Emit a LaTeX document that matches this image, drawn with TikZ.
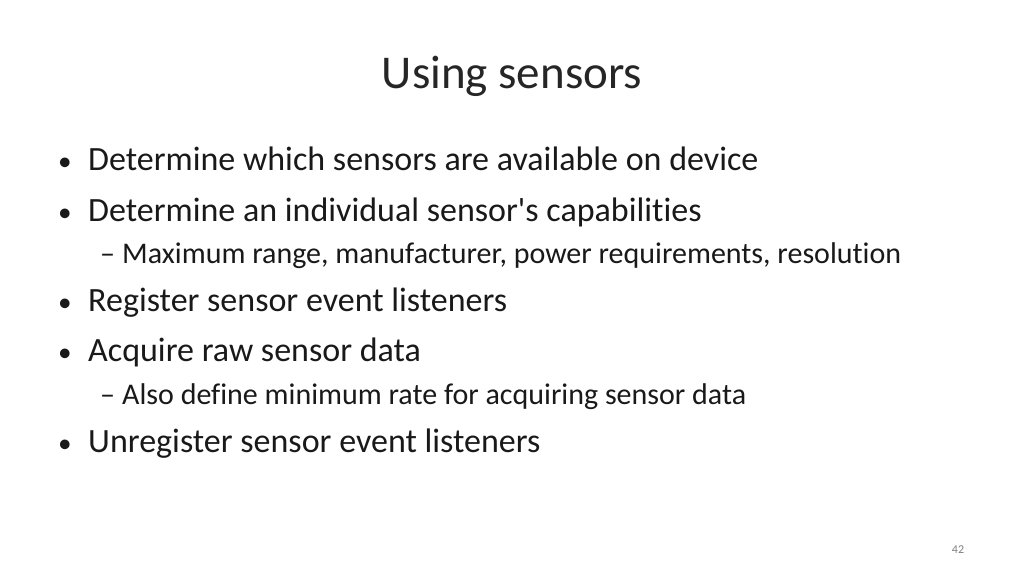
\documentclass[tikz,border=0pt]{standalone}
\usepackage{fontspec}
\setmainfont[Ligatures={NoCommon}]{Carlito}
\begin{document}
\begin{tikzpicture}[x=1pt,y=-1pt,inner sep=0pt]
    \tikzset{
        title/.style={anchor=base,font=\fontsize{47}{56}\selectfont,text=black!85},
        item/.style={anchor=base west,font=\fontsize{34}{40}\selectfont,text=black!90},
        subitem/.style={anchor=base west,font=\fontsize{30}{36}\selectfont,text=black!90},
        pagenum/.style={anchor=base,font=\fontsize{12}{14}\selectfont,text=black!50}
    }
    \useasboundingbox[fill=white] (0,0) rectangle (1024,576);
    \node[title] (ttl) at (512,88) {Using sensors};

    \node[item] (b1) at (58,170) {\makebox[30pt][l]{\scalebox{0.8}{•}}Determine which sensors are available on device};
    \node[item] (b2) at (58,221) {\makebox[30pt][l]{\scalebox{0.8}{•}}Determine an individual sensor\textquotesingle s capabilities};
    \node[subitem] (s1) at (100,263) {\makebox[22pt][l]{–}Maximum range, manufacturer, power requirements, resolution};
    \node[item] (b3) at (58,311) {\makebox[30pt][l]{\scalebox{0.8}{•}}Register sensor event listeners};
    \node[item] (b4) at (58,361) {\makebox[30pt][l]{\scalebox{0.8}{•}}Acquire raw sensor data};
    \node[subitem] (s2) at (100,404) {\makebox[22pt][l]{–}Also define minimum rate for acquiring sensor data};
    \node[item] (b5) at (58,452) {\makebox[30pt][l]{\scalebox{0.8}{•}}Unregister sensor event listeners};

    \node[pagenum] (num) at (958,553) {42};
\end{tikzpicture}
\end{document}
